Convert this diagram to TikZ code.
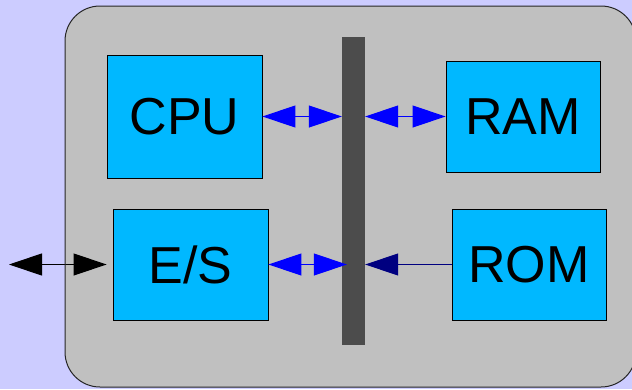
\documentclass[tikz,border=0pt]{standalone}
\usepackage{fontspec}
\setmainfont{Liberation Sans}
\usetikzlibrary{arrows.meta}
\definecolor{bgc}{HTML}{CCCCFF}
\definecolor{panel}{HTML}{C0C0C0}
\definecolor{boxc}{HTML}{00B8FF}
\definecolor{busc}{HTML}{4C4C4C}
\definecolor{arrblue}{HTML}{0000FF}
\definecolor{arrnavy}{HTML}{000080}
\tikzset{
  unit/.style={draw=black, line width=0.9pt, fill=boxc, inner sep=0pt,
    font=\fontsize{52}{60}\selectfont},
  busbar/.style={fill=busc, draw=none, inner sep=0pt},
  link/.style={line width=1.1pt, {Triangle[length=33pt,width=22pt]}-{Triangle[length=33pt,width=22pt]}},
  panelline/.style={draw=black!85, line width=1pt, rounded corners=35pt},
}
\begin{document}
\begin{tikzpicture}[x=1pt,y=-1pt]
\useasboundingbox (0,0) rectangle (632,389);
\fill[bgc] (0,0) rectangle (632,389);
\begin{scope}
\clip (0,0) rectangle (632,389);
\fill[panel, rounded corners=35pt] (65,6) rectangle (636,387);
\end{scope}
\node[busbar, minimum width=23pt, minimum height=308pt] (bus) at (353.5,191) {};
\node[unit, minimum width=155pt, minimum height=123pt] (cpu) at (184.5,116.5) {CPU};
\node[unit, minimum width=154pt, minimum height=111pt] (ram) at (523,116.5) {RAM};
\node[unit, minimum width=155pt, minimum height=111pt] (es) at (190.5,264.5) {E/S};
\node[unit, minimum width=154pt, minimum height=111pt] (rom) at (529,264.5) {ROM};
\coordinate (ext) at (9,264.5);
\draw[link, arrblue] (cpu.east) -- (cpu.east -| bus.west);
\draw[link, arrblue] (ram.west -| bus.east) -- (ram.west);
\draw[link, arrblue, shorten >=-5pt] (es.east) -- (es.east -| bus.west);
\draw[line width=1.1pt, arrnavy, -{Triangle[length=33pt,width=22pt]}] (rom.west) -- (rom.west -| bus.east);
\draw[link, black, shorten >=6pt] (ext) -- (es.west);
\begin{scope}
\clip (0,0) rectangle (632,389);
\draw[panelline] (65,6) rectangle (636,387);
\end{scope}
\end{tikzpicture}
\end{document}
